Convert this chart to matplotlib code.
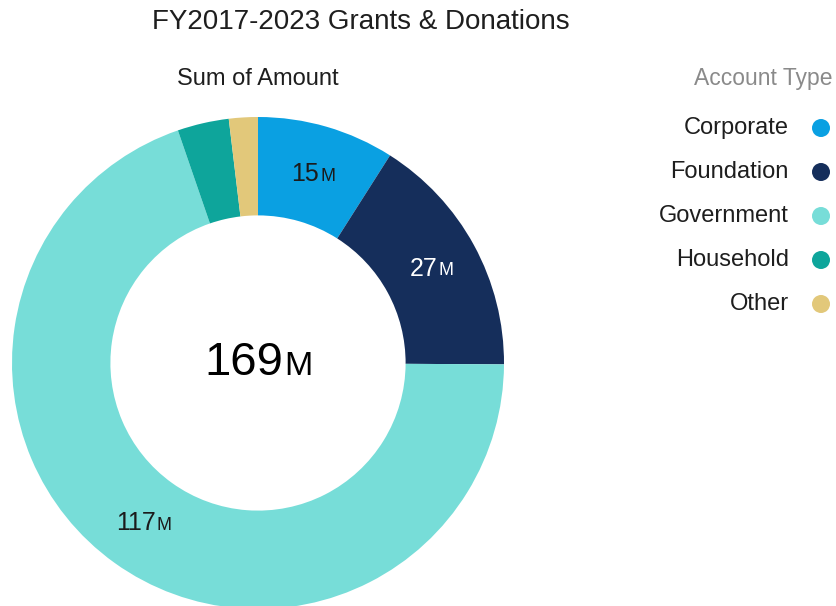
import matplotlib.pyplot as plt
import numpy as np
from matplotlib.patches import Circle

plt.rcParams['font.family'] = ['Liberation Sans', 'DejaVu Sans']

categories = ['Corporate', 'Foundation', 'Government', 'Household', 'Other']
amounts = [15.2, 27.1, 117.4, 5.7, 3.2]  # millions
colors = ['#0aa0e2', '#152e5b', '#77ddd8', '#0ea59b', '#e2c87a']
labels = ['15', '27', '117', '', '']
label_colors = ['#1b1b1b', 'white', '#1b1b1b', 'white', 'white']
total_label = '169'

W, H = 836, 606
fig = plt.figure(figsize=(W / 100, H / 100), dpi=100)

# donut axes, square in pixels
cx, cy, R = 258, 363, 246
ax = fig.add_axes([(cx - R) / W, (H - cy - R) / H, 2 * R / W, 2 * R / H])
wedges, _ = ax.pie(amounts, colors=colors, startangle=90, counterclock=False,
                   radius=1.0, wedgeprops=dict(width=0.4, linewidth=0))
ax.set_xlim(-1, 1)
ax.set_ylim(-1, 1)
ax.axis('off')


def label_with_m(axis, x, y, num, size, color):
    # number followed by a smaller "M" sitting on the same baseline
    msize = size * 0.72
    t = axis.annotate(num, xy=(x, y), xytext=(-msize * 0.42, 0),
                      textcoords='offset points', ha='center', va='center',
                      fontsize=size, color=color)
    axis.annotate('M', xy=(1, 0), xycoords=t, xytext=(0.8, size * 0.212),
                  textcoords='offset points', ha='left', va='baseline',
                  fontsize=msize, color=color)


for w, lab, col in zip(wedges, labels, label_colors):
    if not lab:
        continue
    ang = np.deg2rad((w.theta1 + w.theta2) / 2)
    label_with_m(ax, 0.8 * np.cos(ang), 0.8 * np.sin(ang), lab, 18, col)

label_with_m(ax, 0, 0, total_label, 34, 'black')

# overlay in pixel coords for title and legend
ov = fig.add_axes([0, 0, 1, 1])
ov.set_xlim(0, W)
ov.set_ylim(H, 0)
ov.axis('off')
ov.patch.set_alpha(0)

ov.text(361, 22, 'FY2017-2023 Grants & Donations', ha='center', va='center',
        fontsize=20, color='#1e1e1e')
ov.text(258, 79, 'Sum of Amount', ha='center', va='center',
        fontsize=17, color='#1e1e1e')
ov.text(833, 78, 'Account Type', ha='right', va='center',
        fontsize=16.5, color='#8a8a8a')

for i, (cat, col) in enumerate(zip(categories, colors)):
    y = 128 + i * 44
    ov.text(789, y, cat, ha='right', va='center', fontsize=17, color='#1e1e1e')
    ov.add_patch(Circle((821, y), 9, color=col, lw=0))

fig.savefig('out.png', dpi=100)
